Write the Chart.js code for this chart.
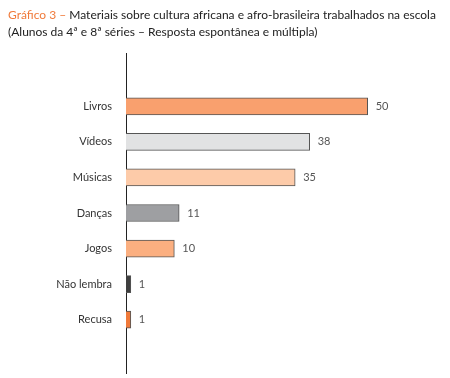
<!DOCTYPE html>
<html>
<head>
<meta charset="utf-8">
<script src="https://cdn.jsdelivr.net/npm/chart.js@4"></script>
<style>
  body { margin: 0; background: #fff; }
  #wrap { position: relative; width: 450px; height: 378px; }
  #title {
    position: absolute; left: 8px; top: 6px; width: 442px; white-space: nowrap;
    font-family: Lato, sans-serif; font-size: 12px; line-height: 17px; color: #222;
  }
  #title .lead { color: #f07a3a; }
  canvas { position: absolute; left: 0; top: 0; }
</style>
</head>
<body>
<div id="wrap">
  <canvas id="chart" width="450" height="378"></canvas>
  <div id="title"><span class="lead">Gráfico 3 –</span> Materiais sobre cultura africana e afro-brasileira trabalhados na escola<br>(Alunos da 4ª e 8ª séries – Resposta espontânea e múltipla)</div>
</div>
<script>
const categories = ["Livros", "Vídeos", "Músicas", "Danças", "Jogos", "Não lembra", "Recusa"];
const values = [50, 38, 35, 11, 10, 1, 1];
const barColors = ["#f9a06e", "#e1e2e3", "#fdcba9", "#9e9fa2", "#fbaf80", "#3f3f3f", "#f07a3a"];

// empty slots above and below, the axis line runs past the bars
const labels = [""].concat(categories, [""]);
const data = [null].concat(values, [null]);
const colors = ["#fff"].concat(barColors, ["#fff"]);

const valueLabels = {
  id: "valueLabels",
  afterDatasetsDraw(chart) {
    const ctx = chart.ctx;
    const meta = chart.getDatasetMeta(0);
    ctx.save();
    ctx.font = "11px Lato, sans-serif";
    ctx.fillStyle = "#555";
    ctx.textBaseline = "middle";
    meta.data.forEach((bar, i) => {
      if (data[i] == null) return;
      ctx.fillText(String(data[i]), bar.x + 8, bar.y);
    });
    ctx.restore();
  }
};

new Chart(document.getElementById("chart"), {
  type: "bar",
  data: {
    labels: labels,
    datasets: [{
      data: data,
      backgroundColor: colors,
      borderColor: "#555",
      borderWidth: 1,
      barThickness: 17
    }]
  },
  options: {
    indexAxis: "y",
    responsive: false,
    animation: false,
    layout: { padding: { top: 53, bottom: 5, left: 0, right: 34 } },
    plugins: {
      legend: { display: false },
      tooltip: { enabled: false }
    },
    scales: {
      x: { display: false, min: 0, max: 60 },
      y: {
        grid: { display: false, drawTicks: false },
        border: { display: true, color: "#222", width: 1 },
        ticks: { color: "#333", padding: 14, font: { family: "Lato, sans-serif", size: 11 } },
        afterFit(scale) {
          scale.width = 126;
          scale.paddingTop = 0;
          scale.paddingBottom = 0;
        }
      }
    }
  },
  plugins: [valueLabels]
});
</script>
</body>
</html>
